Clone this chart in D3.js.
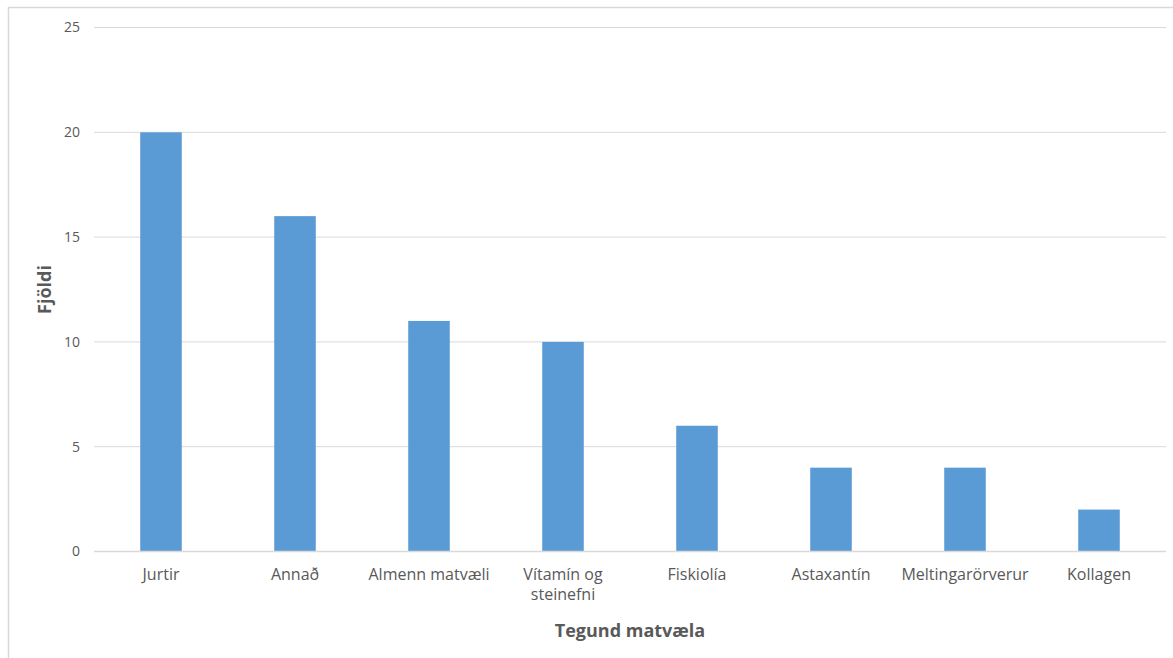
<!DOCTYPE html>
<html>
<head>
<meta charset="utf-8">
<script src="https://cdn.jsdelivr.net/npm/d3@7"></script>
<style>
  html, body { margin: 0; padding: 0; background: #fff; }
  svg, svg text { font-family: "Open Sans", "Liberation Sans", sans-serif; }
  svg { display: block; }
</style>
</head>
<body>
<svg id="chart" width="1173" height="658"></svg>
<script>
// Fjöldi eftir tegund matvæla
const categories = ["Jurtir", "Annað", "Almenn matvæli", "Vítamín og steinefni", "Fiskiolía", "Astaxantín", "Meltingarörverur", "Kollagen"];
const counts = [20, 16, 11, 10, 6, 4, 4, 2];
const yTicks = [0, 5, 10, 15, 20, 25];
const xTitle = "Tegund matvæla";
const yTitle = "Fjöldi";

const svg = d3.select("#chart");
const W = 1173, H = 658;
const plot = { left: 94, right: 1166, top: 27.5, bottom: 551.5 };

// Chart area frame
svg.append("rect")
  .attr("x", 8.5).attr("y", 7.5)
  .attr("width", W + 10).attr("height", H + 10)
  .attr("fill", "#fff").attr("stroke", "#d9d9d9").attr("stroke-width", 1.5);

const x = d3.scaleBand().domain(categories).range([plot.left, plot.right]).paddingInner(0.69).paddingOuter(0.345);
const y = d3.scaleLinear().domain([0, 25]).range([plot.bottom, plot.top]);

// Gridlines
svg.append("g").selectAll("line").data(yTicks.filter(d => d > 0)).join("line")
  .attr("x1", plot.left).attr("x2", plot.right)
  .attr("y1", d => y(d)).attr("y2", d => y(d))
  .attr("stroke", "#d9d9d9").attr("stroke-width", 1);

// Bars
svg.append("g").selectAll("rect").data(categories).join("rect")
  .attr("x", d => x(d))
  .attr("width", x.bandwidth())
  .attr("y", (d, i) => y(counts[i]))
  .attr("height", (d, i) => y(0) - y(counts[i]))
  .attr("fill", "#5b9bd5");

// Baseline
svg.append("line")
  .attr("x1", plot.left).attr("x2", plot.right)
  .attr("y1", y(0)).attr("y2", y(0))
  .attr("stroke", "#d9d9d9").attr("stroke-width", 1.5);

// Y axis tick labels
const yAxis = d3.axisLeft(y).tickValues(yTicks).tickSize(0).tickPadding(0);
const yg = svg.append("g").attr("transform", `translate(${plot.left - 14},0)`).call(yAxis)
  .attr("font-family", null).attr("font-size", null);
yg.select(".domain").remove();
yg.selectAll("text").attr("fill", "#595959").style("font-size", "14px");

// X axis tick labels (wrapped when the band is too narrow)
const xAxis = d3.axisBottom(x).tickSize(0).tickPadding(0);
const xg = svg.append("g").attr("transform", `translate(0,${plot.bottom + 17})`).call(xAxis)
  .attr("font-family", null).attr("font-size", null);
xg.select(".domain").remove();
xg.selectAll("text").attr("fill", "#595959").style("font-size", "16px")
  .each(function(d) {
    const t = d3.select(this);
    const maxW = x.step() - 4;
    if (this.getComputedTextLength() > maxW) {
      const words = d.split(" ");
      t.text(null);
      let line = [], lines = [];
      words.forEach(w => {
        const trial = line.concat(w).join(" ");
        t.text(trial);
        if (this.getComputedTextLength() > maxW && line.length) { lines.push(line.join(" ")); line = [w]; }
        else line.push(w);
      });
      lines.push(line.join(" "));
      t.text(null);
      lines.forEach((l, i) => t.append("tspan").attr("x", 0).attr("dy", i === 0 ? "0.71em" : "1.25em").text(l));
      t.attr("dy", null);
    }
  });

// Axis titles
svg.append("text")
  .attr("x", (plot.left + plot.right) / 2).attr("y", 637)
  .attr("text-anchor", "middle").attr("fill", "#595959")
  .style("font-size", "18px").style("font-weight", "bold")
  .text(xTitle);

svg.append("text")
  .attr("transform", `translate(51,${(plot.top + plot.bottom) / 2}) rotate(-90)`)
  .attr("text-anchor", "middle").attr("fill", "#595959")
  .style("font-size", "18px").style("font-weight", "bold")
  .text(yTitle);
</script>
</body>
</html>
